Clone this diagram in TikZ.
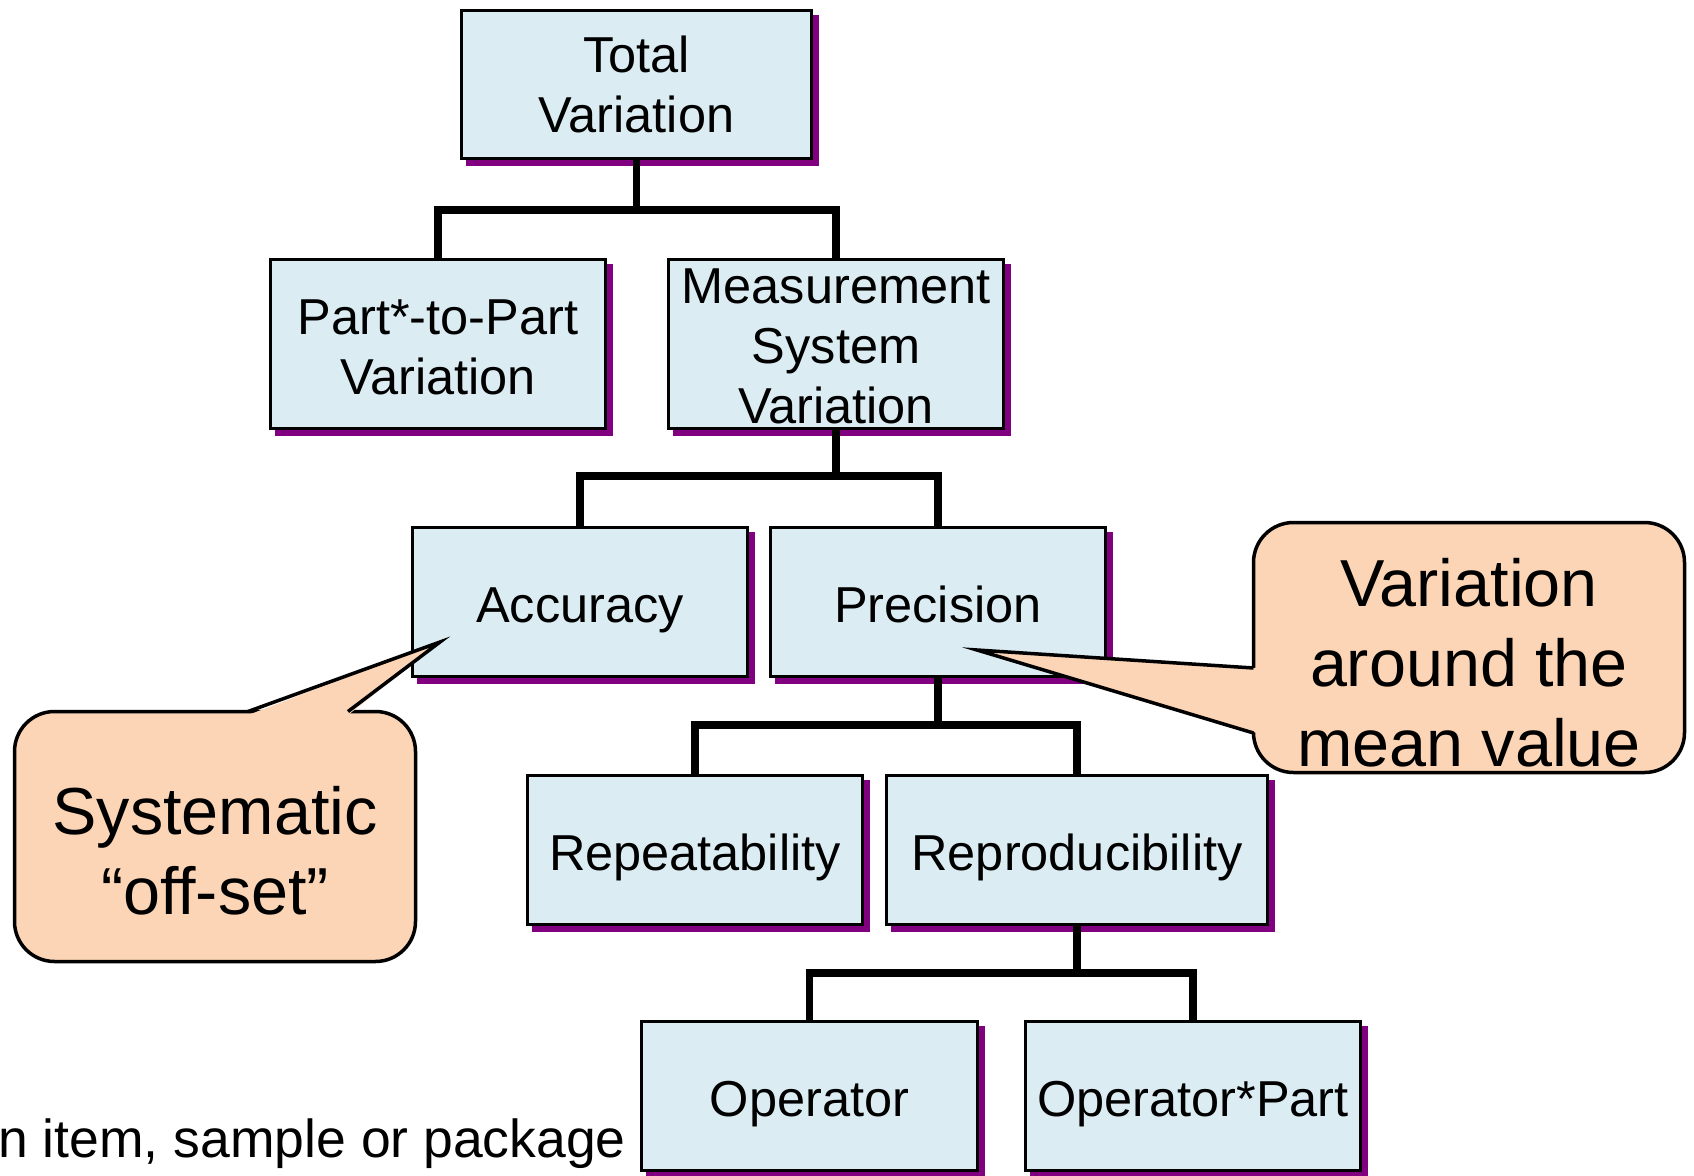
\documentclass[tikz,border=0pt]{standalone}
\usepackage{fontspec}
\setmainfont{Liberation Sans}
\definecolor{boxfill}{RGB}{219,237,243}
\definecolor{shadowc}{RGB}{128,0,128}
\definecolor{calloutfill}{RGB}{251,213,181}
\begin{document}
\begin{tikzpicture}[x=1pt,y=-1pt,
  box/.style={draw=black, line width=3.5pt, fill=boxfill, align=center, inner sep=0pt,
    font=\fontsize{50.5pt}{60pt}\selectfont,
    preaction={fill=shadowc, draw=shadowc, line width=3.5pt, transform canvas={shift={(6pt,-6pt)}}}},
  oneline/.style={text height=40pt, text depth=0pt},
  conn/.style={line width=7.5pt, line join=miter},
  callout/.style={draw=black, line width=3.5pt, fill=calloutfill, rounded corners=40pt, inner sep=0pt},
  ptr/.style={line width=3.5pt, line join=miter, miter limit=12},
  callouttext/.style={align=center, font=\fontsize{66.5pt}{80pt}\selectfont, inner sep=0pt},
]
\useasboundingbox (0,0) rectangle (1694,1175);

% boxes
\node[box, minimum width=350pt, minimum height=148pt] (total) at (636.5,84.5) {Total\\Variation};
\node[box, minimum width=335pt, minimum height=169pt, text height=100pt, text depth=0pt] (part) at (438,344) {Part*-to-Part\\Variation};
\node[box, minimum width=335pt, minimum height=169pt, text height=158pt, text depth=0pt] (msv) at (836,344) {Measurement\\System\\Variation};
\node[box, oneline, minimum width=335pt, minimum height=149pt] (acc) at (580,602) {Accuracy};
\node[box, oneline, minimum width=335pt, minimum height=149pt] (prec) at (938,602) {Precision};
\node[box, oneline, minimum width=335pt, minimum height=149pt] (rep) at (695,850) {Repeatability};
\node[box, oneline, minimum width=381pt, minimum height=149pt] (repro) at (1077,850) {Reproducibility};
\node[box, oneline, minimum width=336pt, minimum height=149pt] (oper) at (809.5,1096) {Operator};
\node[box, oneline, minimum width=335pt, minimum height=149pt] (oppart) at (1193,1096) {Operator*Part};

% connectors
\coordinate (b1) at (0,210);
\coordinate (b2) at (0,476);
\coordinate (b3) at (0,725);
\coordinate (b4) at (0,973);
\draw[conn] (total.south) -- (total.south |- b1);
\draw[conn] (part.north) |- (msv.north |- b1) -- (msv.north);
\draw[conn] (msv.south) -- (msv.south |- b2);
\draw[conn] (acc.north) |- (prec.north |- b2) -- (prec.north);
\draw[conn] (prec.south) -- (prec.south |- b3);
\draw[conn] (rep.north) |- (repro.north |- b3) -- (repro.north);
\draw[conn] (repro.south) -- (repro.south |- b4);
\draw[conn] (oper.north) |- (oppart.north |- b4) -- (oppart.north);

% callout: systematic offset
\node[callout, minimum width=401pt, minimum height=250pt] (sys) at (215,836.5) {};
\coordinate (sysA) at (248,711.5);
\coordinate (sysT) at (440,642);
\coordinate (sysB) at (348,711.5);
\fill[calloutfill] ([yshift=-3.5pt]sysA) -- (sysT) -- ([yshift=-3.5pt]sysB) -- cycle;
\draw[ptr] (sysA) -- (sysT) -- (sysB);
\node[callouttext] (systxt) at (215,851) {Systematic\\“off-set”};

% callout: variation around the mean
\node[callout, minimum width=431pt, minimum height=250pt] (var) at (1469,647.5) {};
\coordinate (varA) at (1253.5,668);
\coordinate (varT) at (977,650);
\coordinate (varB) at (1253.5,733);
\fill[calloutfill] ([xshift=3.5pt]varA) -- (varT) -- ([xshift=3.5pt]varB) -- cycle;
\draw[ptr] (varA) -- (varT) -- (varB);
\node[callouttext] (vartxt) at (1469,663) {Variation\\around the\\mean value};

% footnote fragment
\node[anchor=base east, font=\fontsize{53.5pt}{60pt}\selectfont, inner sep=0pt] (note) at (626,1157) {n item, sample or package};
\end{tikzpicture}
\end{document}
